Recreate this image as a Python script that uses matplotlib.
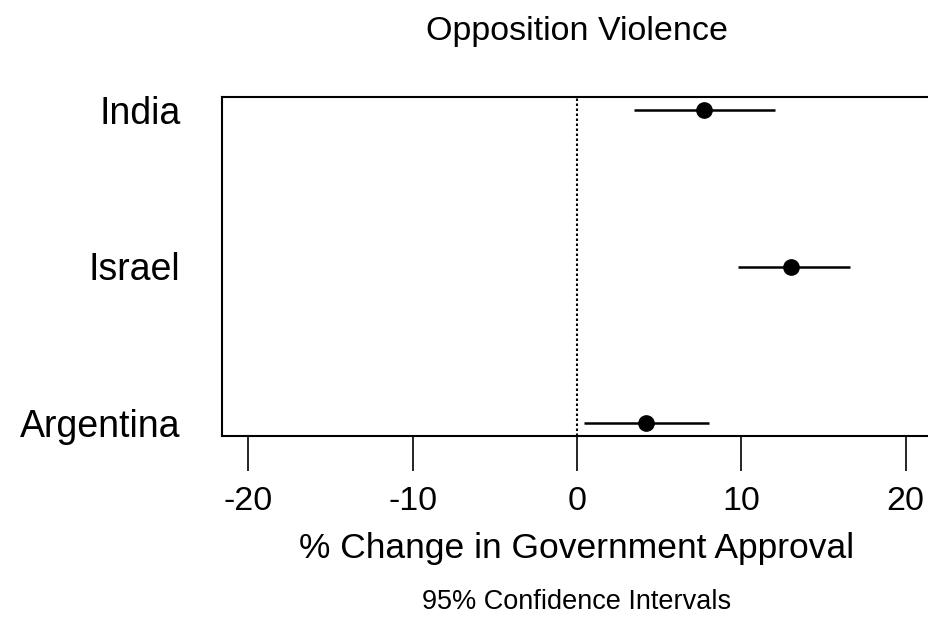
import matplotlib
matplotlib.use('Agg')
import matplotlib.pyplot as plt

matplotlib.rcParams['font.family'] = ['Liberation Sans', 'DejaVu Sans']
matplotlib.rcParams['axes.unicode_minus'] = False

countries = ["Argentina", "Israel", "India"]
estimate = [4.2, 13.05, 7.7]
ci_low = [0.45, 9.8, 3.45]
ci_high = [8.05, 16.6, 12.05]

fig = plt.figure(figsize=(9.29, 6.21), dpi=100)
W, H = 929, 621
ax = fig.add_axes([222 / W, (H - 436) / H, (932 - 222) / W, (436 - 97) / H])

ypos = list(range(1, len(countries) + 1))

# zero reference line, then the intervals and point estimates
ax.axvline(0, color='black', linestyle=(0, (1.2, 1.2)), lw=1.5, zorder=1)
ax.hlines(ypos, ci_low, ci_high, color='black', lw=1.8, zorder=2)
ax.plot(estimate, ypos, 'o', color='black', markersize=11, zorder=3)

ax.set_xlim(-21.6, 21.6)
ax.set_ylim(0.92, 3.08)
ax.set_xticks([-20, -10, 0, 10, 20])
ax.set_yticks(ypos)
ax.set_yticklabels(countries)

for s in ax.spines.values():
    s.set_linewidth(1.5)

ax.tick_params(axis='x', length=25, width=1.2, pad=11, labelsize=24.5)
ax.tick_params(axis='y', length=0, pad=30, labelsize=27)

ax.set_title("Opposition Violence", fontsize=24.5, pad=41)
ax.set_xlabel("% Change in Government Approval", fontsize=25.5, labelpad=11)
fig.text(577 / W, 1 - 602 / H, "95% Confidence Intervals", ha='center', va='center', fontsize=19.5)

fig.savefig("out.png", dpi=100)
